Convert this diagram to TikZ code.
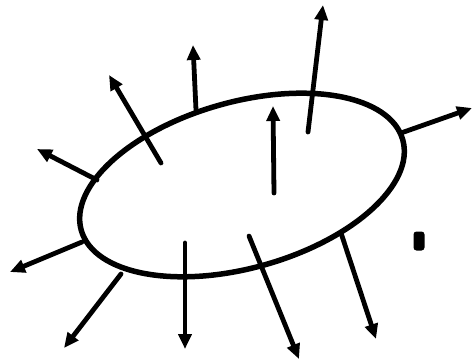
\documentclass[tikz,border=0pt]{standalone}
\usetikzlibrary{arrows.meta}
\begin{document}
\begin{tikzpicture}[x=1pt,y=-1pt,
  vec/.style={line width=4.8pt,line cap=round,-{Triangle[length=15pt,width=13pt]}},
  rim/.style={line width=5.5pt}]
\useasboundingbox (0,0) rectangle (472,362);
\fill[white] (0,0) rectangle (472,362);
% ellipse
\coordinate (c) at (242,185);
\draw[rim,rotate around={15.7:(c)}] (c) ellipse [x radius=167, y radius=83];
% arrow anchors
\coordinate (s1) at (97,180);  \coordinate (t1) at (37,149);
\coordinate (s2) at (161,163); \coordinate (t2) at (109,75);
\coordinate (s3) at (196,110); \coordinate (t3) at (193,45);
\coordinate (s4) at (308,132); \coordinate (t4) at (323,5);
\coordinate (s5) at (274,193); \coordinate (t5) at (273,106);
\coordinate (s6) at (401,133); \coordinate (t6) at (472,108);
\coordinate (s7) at (82,242);  \coordinate (t7) at (10,272);
\coordinate (s8) at (121,274); \coordinate (t8) at (64,348);
\coordinate (s9) at (185,243); \coordinate (t9) at (185,349);
\coordinate (s10) at (249,236); \coordinate (t10) at (299,359);
\coordinate (s11) at (341,233); \coordinate (t11) at (376,339);
\foreach \i in {1,...,11} \draw[vec] (s\i) -- (t\i);
% dot
\node[fill=black,rounded corners=3pt,minimum width=11pt,minimum height=19pt,inner sep=0pt] (dot) at (419,241) {};
\end{tikzpicture}
\end{document}
